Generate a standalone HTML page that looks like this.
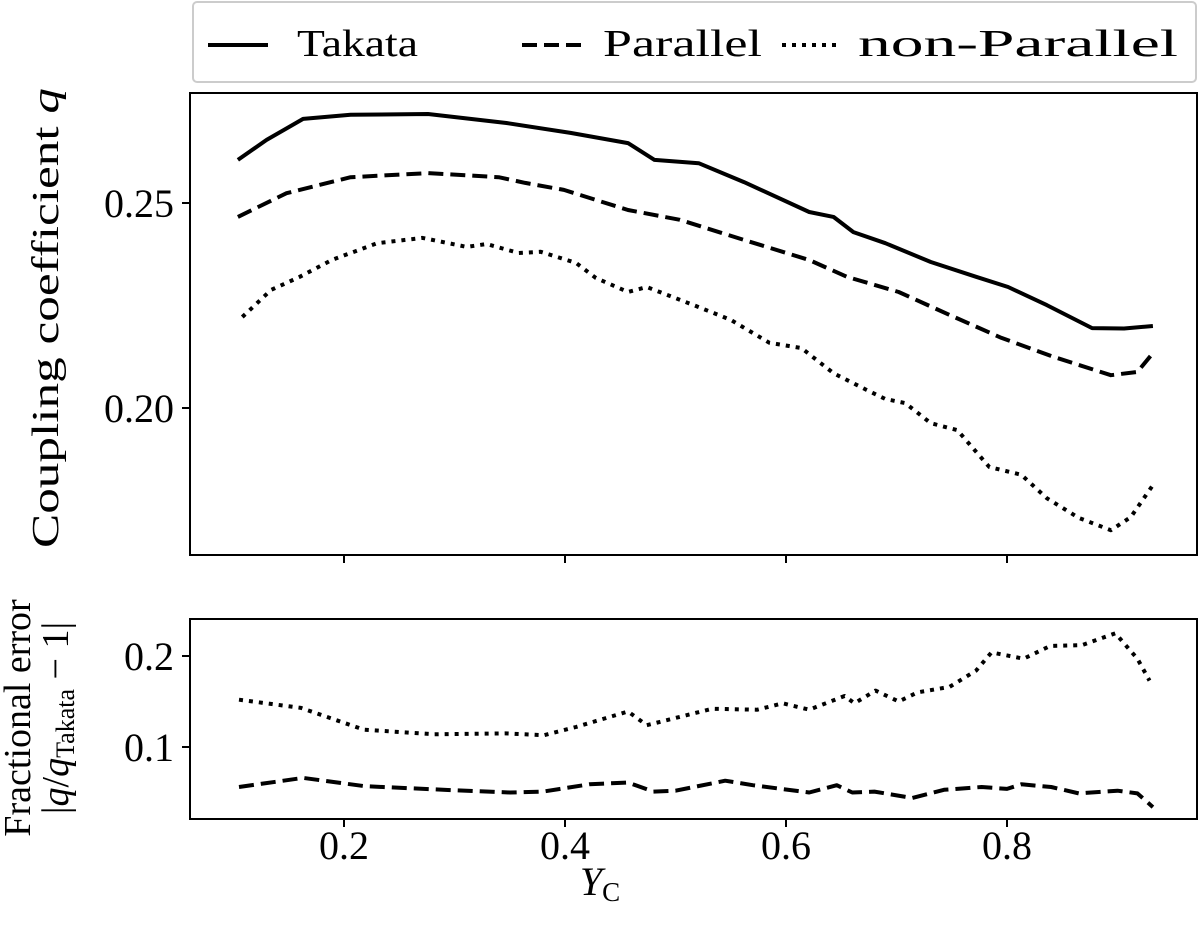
<!DOCTYPE html>
<html><head><meta charset="utf-8"><style>
body{margin:0;background:#fff;}
svg text{font-family:"Liberation Serif","DejaVu Serif",serif;fill:#000;}
</style></head><body>
<svg id="chart" width="1200" height="936" xmlns="http://www.w3.org/2000/svg">
<g>
<rect x="193" y="2" width="1003" height="80" rx="4" fill="#fff" stroke="#ccc" stroke-width="2"/>
<line x1="208" y1="45" x2="268" y2="45" stroke="#000" stroke-width="4"/>
<text x="297" y="56" font-size="38" textLength="121" lengthAdjust="spacingAndGlyphs">Takata</text>
<line x1="522" y1="45" x2="583" y2="45" stroke="#000" stroke-width="4" stroke-dasharray="15,7"/>
<text x="603" y="56" font-size="38" textLength="159" lengthAdjust="spacingAndGlyphs">Parallel</text>
<line x1="782" y1="45" x2="842" y2="45" stroke="#000" stroke-width="4" stroke-dasharray="4,6"/>
<text x="858" y="56" font-size="38" textLength="320" lengthAdjust="spacingAndGlyphs">non-Parallel</text>
</g>
<g id="topPanel"></g>
<g id="botPanel"></g>
<text transform="translate(58,318) rotate(-90)" text-anchor="middle" font-size="38" textLength="460" lengthAdjust="spacingAndGlyphs">Coupling coefficient <tspan font-style="italic">q</tspan></text>
<text transform="translate(30,718) rotate(-90)" text-anchor="middle" font-size="38">Fractional error</text>
<text transform="translate(68,718) rotate(-90)" text-anchor="middle" font-size="38">|<tspan font-style="italic">q</tspan>/<tspan font-style="italic">q</tspan><tspan font-size="26" dy="6">Takata</tspan><tspan dy="-6"> − 1|</tspan></text>
<text x="600" y="895" text-anchor="middle" font-size="40"><tspan font-style="italic">Y</tspan><tspan font-size="27" dy="6">C</tspan></text>
</svg>
<script>
const xTicks=[0.2,0.4,0.6,0.8];
const xTickLabels=["0.2","0.4","0.6","0.8"];
const topYTicks=[0.20,0.25];
const topYTickLabels=["0.20","0.25"];
const botYTicks=[0.1,0.2];
const botYTickLabels=["0.1","0.2"];
const takataX=[0.104,0.130,0.163,0.206,0.276,0.347,0.405,0.457,0.481,0.521,0.562,0.621,0.643,0.661,0.690,0.731,0.772,0.801,0.836,0.877,0.906,0.932];
const takataQ=[0.2605,0.2654,0.2705,0.2715,0.2717,0.2695,0.2671,0.2646,0.2605,0.2597,0.2551,0.2478,0.2466,0.2429,0.2402,0.2356,0.2320,0.2295,0.2251,0.2195,0.2194,0.2200];
const parX=[0.104,0.148,0.206,0.276,0.340,0.364,0.399,0.457,0.504,0.556,0.621,0.655,0.702,0.748,0.795,0.842,0.894,0.918,0.932];
const parQ=[0.2466,0.2524,0.2563,0.2573,0.2563,0.2549,0.2532,0.2483,0.2459,0.2415,0.2361,0.2320,0.2283,0.2227,0.2171,0.2125,0.2080,0.2088,0.2134];
const npX=[0.108,0.134,0.160,0.189,0.230,0.271,0.311,0.329,0.358,0.378,0.410,0.428,0.457,0.474,0.521,0.550,0.585,0.614,0.643,0.673,0.690,0.708,0.731,0.755,0.784,0.813,0.836,0.865,0.894,0.912,0.932];
const npQ=[0.2222,0.2288,0.2320,0.2361,0.2402,0.2415,0.2393,0.2400,0.2378,0.2381,0.2354,0.2317,0.2283,0.2295,0.2246,0.2215,0.2159,0.2146,0.2085,0.2044,0.2022,0.2012,0.1963,0.1946,0.1856,0.1837,0.1780,0.1732,0.1702,0.1734,0.1812];
const errParX=[0.105,0.163,0.218,0.294,0.350,0.380,0.422,0.457,0.480,0.500,0.545,0.570,0.621,0.646,0.660,0.680,0.714,0.743,0.777,0.800,0.813,0.840,0.865,0.900,0.918,0.932];
const errPar=[0.056,0.066,0.057,0.0527,0.050,0.051,0.059,0.061,0.051,0.052,0.063,0.058,0.050,0.058,0.050,0.051,0.044,0.053,0.056,0.054,0.059,0.056,0.049,0.052,0.049,0.034];
const errNpX=[0.105,0.161,0.218,0.282,0.346,0.381,0.410,0.457,0.474,0.533,0.574,0.597,0.621,0.653,0.662,0.681,0.702,0.719,0.748,0.772,0.786,0.815,0.839,0.868,0.898,0.918,0.929];
const errNp=[0.152,0.143,0.119,0.114,0.115,0.113,0.122,0.139,0.124,0.142,0.141,0.148,0.141,0.156,0.148,0.162,0.150,0.160,0.166,0.184,0.204,0.197,0.211,0.212,0.225,0.197,0.173];

const NS="http://www.w3.org/2000/svg";
const L=190,R=1197;
const xS=v=>123+1105*v;
const yTop=v=>203-(v-0.25)*4100;
const yBot=v=>838-v*910;
function mk(p,tag,a){const e=document.createElementNS(NS,tag);for(const k in a)e.setAttribute(k,a[k]);p.appendChild(e);return e;}
function panel(g,y0,y1,yS,ticks,labels,nm,showX){
  for(let i=0;i<ticks.length;i++){
    const y=yS(ticks[i]);
    const t=mk(g,'line',{x1:L-8,x2:L,y1:y,y2:y,stroke:'#000','stroke-width':2});
    
    
    const tx=mk(g,'text',{x:L-16,y:y+14,'text-anchor':'end','font-size':40});
    tx.textContent=labels[i];
    
    
  }
  for(let i=0;i<xTicks.length;i++){
    const x=xS(xTicks[i]);
    const t=mk(g,'line',{x1:x,x2:x,y1:y1,y2:y1+8,stroke:'#000','stroke-width':2});
    
    
    if(showX){
      const tx=mk(g,'text',{x:x,y:y1+40,'text-anchor':'middle','font-size':40});
      tx.textContent=xTickLabels[i];
      
      
    }
  }
  const r=mk(g,'rect',{x:L,y:y0,width:R-L,height:y1-y0,fill:'none',stroke:'#000','stroke-width':2});
  
  
}
function series(g,xs,ys,yS,dash,nm){
  const d=xs.map((x,i)=>(i?'L':'M')+xS(x).toFixed(1)+','+yS(ys[i]).toFixed(1)).join(' ');
  const p=mk(g,'path',{d:d,fill:'none',stroke:'#000','stroke-width':4,'stroke-dasharray':dash,'stroke-linejoin':'round'});
  
  
}
const topG=document.getElementById('topPanel'),botG=document.getElementById('botPanel');
panel(topG,93,555,yTop,topYTicks,topYTickLabels,'top',false);
series(topG,takataX,takataQ,yTop,'none','takata-line');
series(topG,parX,parQ,yTop,'15,7','parallel-line');
series(topG,npX,npQ,yTop,'4,6','non-parallel-line');
panel(botG,619,819,yBot,botYTicks,botYTickLabels,'bottom',true);
series(botG,errParX,errPar,yBot,'15,7','parallel-error-line');
series(botG,errNpX,errNp,yBot,'4,6','non-parallel-error-line');
</script>
</body></html>
